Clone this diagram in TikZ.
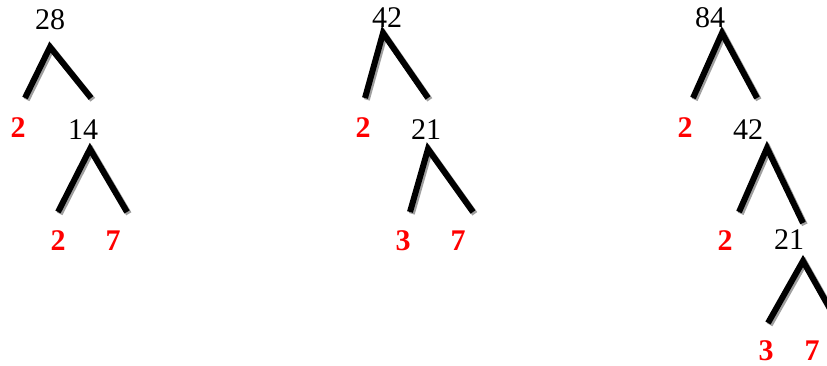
\documentclass[tikz,border=0pt]{standalone}
\usepackage{fontspec}
\setmainfont{Liberation Serif}
\usetikzlibrary{positioning}

\begin{document}
\begin{tikzpicture}[
    x=1pt, y=-1pt,
    num/.style={anchor=base, inner sep=0pt, font=\fontsize{30}{31}\selectfont},
    prime/.style={num, text=red, font=\fontsize{30}{31}\selectfont\bfseries},
    branch/.style={
        line width=6pt, line cap=butt, line join=miter,
        preaction={draw=gray!75, line width=6pt,
            transform canvas={shift={(1.8pt,-1.8pt)}}}
    }
]
\useasboundingbox (0,0) rectangle (827,366);

% --- Árbol 28 ---
\node[num] (t28) at (50,30) {28};
\node[prime] (t28a) at (18,138) {2};
\node[num] (t14) at (83,140) {14};
\node[prime] (t14a) at (58,250) {2};
\node[prime] (t14b) at (113,250) {7};
\coordinate (p28) at (50,47);
\coordinate (p28l) at (25,98);
\coordinate (p28r) at (91,98);
\coordinate (p14) at (90,149);
\coordinate (p14l) at (58,212);
\coordinate (p14r) at (127,212);
\draw[branch] (p28l) -- (p28) -- (p28r);
\draw[branch] (p14l) -- (p14) -- (p14r);

% --- Árbol 42 ---
\node[num] (t42) at (387,28) {42};
\node[prime] (t42a) at (363,138) {2};
\node[num] (t21) at (426,140) {21};
\node[prime] (t21a) at (403,250) {3};
\node[prime] (t21b) at (458,250) {7};
\coordinate (p42) at (383,33);
\coordinate (p42l) at (365,98);
\coordinate (p42r) at (428,98);
\coordinate (p21) at (428,149);
\coordinate (p21l) at (410,212);
\coordinate (p21r) at (473,212);
\draw[branch] (p42l) -- (p42) -- (p42r);
\draw[branch] (p21l) -- (p21) -- (p21r);

% --- Árbol 84 ---
\node[num] (t84) at (710,28) {84};
\node[prime] (t84a) at (685,138) {2};
\node[num] (u42) at (748,140) {42};
\node[prime] (u42a) at (725,250) {2};
\node[num] (u21) at (789,249) {21};
\node[prime] (u21a) at (766,360) {3};
\node[prime] (u21b) at (812,360) {7};
\coordinate (p84) at (722,33);
\coordinate (p84l) at (693,98);
\coordinate (p84r) at (757,98);
\coordinate (q42) at (767,148);
\coordinate (q42l) at (739,212);
\coordinate (q42r) at (803,223);
\coordinate (q21) at (803,261);
\coordinate (q21l) at (768,323);
\coordinate (q21r) at (838,323);
\draw[branch] (p84l) -- (p84) -- (p84r);
\draw[branch] (q42l) -- (q42) -- (q42r);
\draw[branch] (q21l) -- (q21) -- (q21r);

\end{tikzpicture}
\end{document}
